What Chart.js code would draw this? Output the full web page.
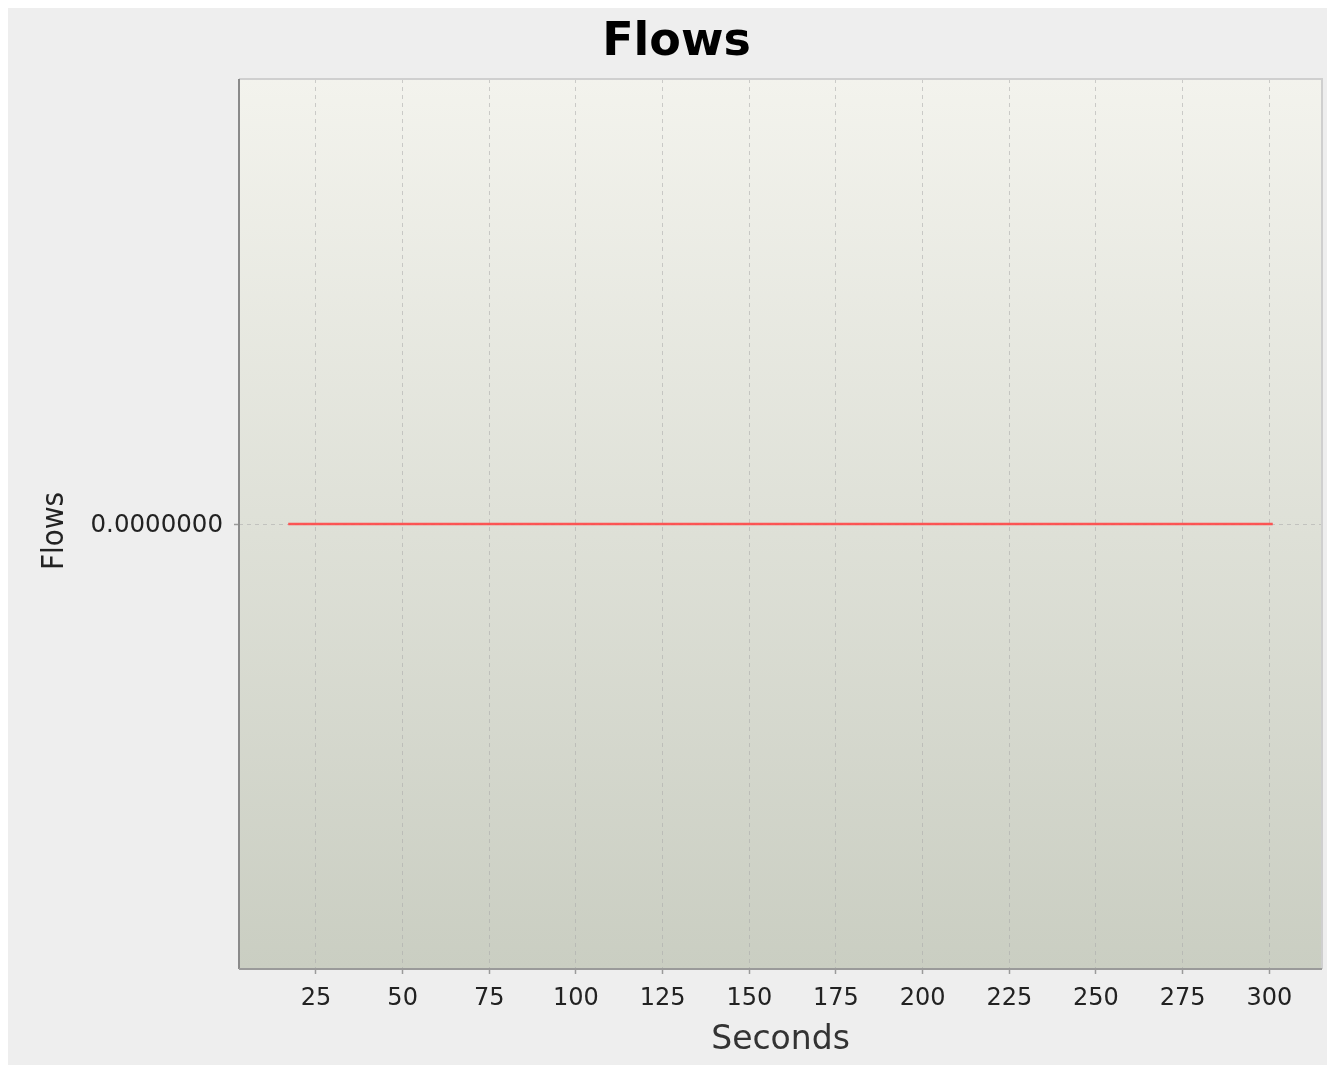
<!DOCTYPE html>
<html>
<head>
<meta charset="utf-8">
<script src="https://cdn.jsdelivr.net/npm/chart.js@4"></script>
<style>
  html, body { margin: 0; padding: 0; background: #ffffff; }
  canvas { display: block; }
</style>
</head>
<body>
<canvas id="c" width="1331" height="1068"></canvas>
<script>
// ---- data ----
const chartTitle = "Flows";
const xAxisLabel = "Seconds";
const yAxisLabel = "Flows";
const seconds = [17, 301];
const flows = [0, 0];
const xTickValues = [25, 50, 75, 100, 125, 150, 175, 200, 225, 250, 275, 300];
const yTickValues = [0];
const xRange = [2.8, 315.2];
const yRange = [-1, 1];

const bgPlugin = {
  id: 'bg',
  beforeDraw(chart) {
    const ctx = chart.ctx;
    const a = chart.chartArea;
    ctx.save();
    ctx.fillStyle = '#ffffff';
    ctx.fillRect(0, 0, chart.width, chart.height);
    ctx.fillStyle = '#eeeeee';
    ctx.fillRect(8, 8, 1319, 1057);
    const g = ctx.createLinearGradient(0, a.top, 0, a.bottom);
    g.addColorStop(0, '#f3f3ed');
    g.addColorStop(1, '#cacec2');
    ctx.fillStyle = g;
    ctx.fillRect(a.left, a.top, a.right - a.left, a.bottom - a.top);
    // title
    ctx.fillStyle = '#000000';
    ctx.font = "bold 46px 'DejaVu Sans'";
    ctx.textAlign = 'center';
    ctx.textBaseline = 'alphabetic';
    ctx.fillText(chartTitle, 676.5, 55);
    // y axis label
    ctx.translate(54.5, 531);
    ctx.rotate(-Math.PI / 2);
    ctx.fillStyle = '#222222';
    ctx.font = "31px 'DejaVu Sans Condensed', 'DejaVu Sans'";
    ctx.textBaseline = 'middle';
    ctx.fillText(yAxisLabel, 0, 0);
    ctx.restore();
  },
  afterDatasetsDraw(chart) {
    const ctx = chart.ctx;
    const a = chart.chartArea;
    ctx.save();
    ctx.lineWidth = 2;
    ctx.strokeStyle = '#cfcfcf';
    ctx.beginPath();
    ctx.moveTo(a.left, a.top);
    ctx.lineTo(a.right, a.top);
    ctx.lineTo(a.right, a.bottom);
    ctx.stroke();
    ctx.strokeStyle = '#8a8a8a';
    ctx.beginPath();
    ctx.moveTo(a.left, a.top);
    ctx.lineTo(a.left, a.bottom);
    ctx.stroke();
    ctx.strokeStyle = '#9a9a9a';
    ctx.beginPath();
    ctx.moveTo(a.left, a.bottom);
    ctx.lineTo(a.right, a.bottom);
    ctx.stroke();
    ctx.restore();
  }
};

new Chart(document.getElementById('c'), {
  type: 'line',
  data: {
    datasets: [{
      label: yAxisLabel,
      data: seconds.map((s, i) => ({ x: s, y: flows[i] })),
      borderColor: 'rgba(255, 70, 70, 0.9)',
      borderWidth: 2.5,
      pointRadius: 0,
      fill: false,
      tension: 0
    }]
  },
  options: {
    responsive: false,
    devicePixelRatio: 1,
    animation: false,
    layout: { padding: { left: 0, top: 79, right: 9, bottom: 0 } },
    plugins: {
      legend: { display: false },
      title: { display: false },
      tooltip: { enabled: false }
    },
    scales: {
      x: {
        type: 'linear',
        min: xRange[0],
        max: xRange[1],
        afterBuildTicks(scale) { scale.ticks = xTickValues.map(v => ({ value: v })); },
        afterFit(scale) { scale.height = 99; },
        grid: {
          color: 'rgba(170,170,170,0.55)',
          lineWidth: 1,
          tickLength: 5,
          tickColor: '#9a9a9a',
          tickWidth: 1.5,
          tickBorderDash: []
        },
        border: { display: false, dash: [4, 4] },
        ticks: {
          padding: 10,
          maxRotation: 0,
          autoSkip: false,
          color: '#222222',
          font: { family: "'DejaVu Sans'", size: 24 },
          callback: v => String(v)
        },
        title: {
          display: true,
          text: xAxisLabel,
          color: '#333333',
          font: { family: "'DejaVu Sans'", size: 33, lineHeight: 1.2 },
          padding: { top: 0, bottom: 8 }
        }
      },
      y: {
        type: 'linear',
        min: yRange[0],
        max: yRange[1],
        afterBuildTicks(scale) { scale.ticks = yTickValues.map(v => ({ value: v })); },
        afterFit(scale) { scale.width = 239; },
        grid: {
          color: 'rgba(170,170,170,0.55)',
          lineWidth: 1,
          tickLength: 5,
          tickColor: '#9a9a9a',
          tickWidth: 1.5,
          tickBorderDash: []
        },
        border: { display: false, dash: [4, 4] },
        ticks: {
          padding: 11,
          labelOffset: 2,
          color: '#222222',
          font: { family: "'DejaVu Sans'", size: 24.5 },
          callback: v => Number(v).toFixed(7)
        },
        title: { display: false }
      }
    }
  },
  plugins: [bgPlugin]
});
</script>
</body>
</html>
